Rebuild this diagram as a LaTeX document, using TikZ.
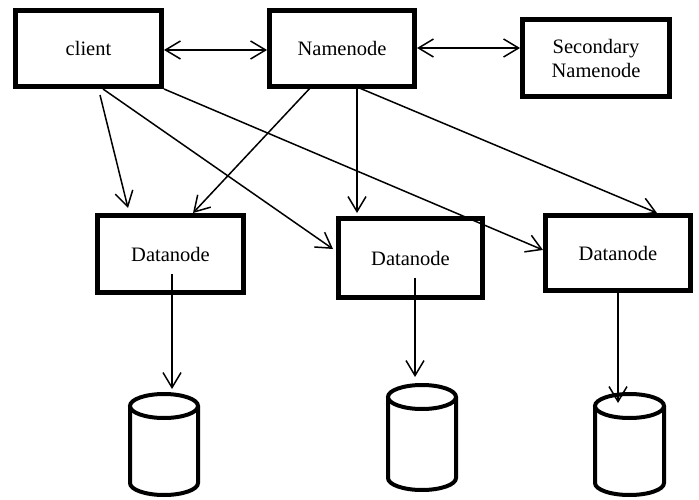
\documentclass[tikz,border=0pt]{standalone}
\usepackage{fontspec}
\setmainfont{Liberation Serif}
\usetikzlibrary{arrows.meta}
\begin{document}
\begin{tikzpicture}[x=1pt,y=1pt,
 box/.style={draw, line width=5pt, align=center, inner sep=0pt, fill=white, font=\fontsize{20.5}{24}\selectfont},
 conn/.style={line width=1.5pt, -{Straight Barb[length=15pt,width=18pt]}},
 biconn/.style={line width=1.5pt, {Straight Barb[length=15pt,width=18pt]}-{Straight Barb[length=15pt,width=18pt]}},
 cylline/.style={line width=4pt, fill=white}]
\useasboundingbox (0,0) rectangle (699,499);
% boxes
\node[box, minimum width=146pt, minimum height=76pt] (client) at (88.5,450.5) {client};
\node[box, minimum width=145pt, minimum height=76pt] (nn) at (342,450.5) {Namenode};
\node[box, minimum width=147pt, minimum height=77pt] (snn) at (596,441) {Secondary\\Namenode};
\node[box, minimum width=146pt, minimum height=77pt] (dn1) at (170.5,245) {Datanode};
\node[box, minimum width=144pt, minimum height=79pt] (dn2) at (410.5,241) {Datanode};
\node[box, minimum width=145pt, minimum height=75pt] (dn3) at (618,246) {Datanode};
% cylinders
\draw[cylline] (130,93) -- (130,16) arc[start angle=180, end angle=360, x radius=34, y radius=12] -- (198,93);
\draw[cylline] (164,93) ellipse [x radius=34, y radius=12];
\draw[cylline] (388,102) -- (388,21) arc[start angle=180, end angle=360, x radius=34, y radius=12] -- (456,102);
\draw[cylline] (422,102) ellipse [x radius=34, y radius=12];
\draw[cylline] (595,93) -- (595,16) arc[start angle=180, end angle=360, x radius=34.5, y radius=12] -- (664,93);
\draw[cylline] (629.5,93) ellipse [x radius=34.5, y radius=12];
\coordinate (cyl1) at (172,110);
\coordinate (cyl2) at (415,122);
\coordinate (cyl3) at (618,96);
% connectors
\draw[biconn] (client.east |- 0,449) -- (nn.west |- 0,449);
\draw[biconn] (nn.east |- 0,451) -- (snn.west |- 0,451);
\draw[conn] ([shift={(11.5pt,-6pt)}]client.south) -- ([shift={(-42.5pt,5pt)}]dn1.north);
\draw[conn] ([xshift=14.5pt]client.south) -- ([shift={(-3pt,9pt)}]dn2.west);
\draw[conn] (client.south east) -- ([yshift=3pt]dn3.west);
\draw[conn] ([shift={(-30pt,3pt)}]nn.south) -- ([xshift=22.5pt]dn1.north);
\draw[conn] ([xshift=15pt]nn.south) -- ([shift={(-53.5pt,3pt)}]dn2.north);
\draw[conn] ([shift={(15pt,2pt)}]nn.south) -- ([shift={(39pt,0pt)}]dn3.north);
\draw[conn] ([shift={(1.5pt,-20pt)}]dn1.center) -- (cyl1);
\draw[conn] ([shift={(4.5pt,-20pt)}]dn2.center) -- (cyl2);
\draw[conn] ([yshift=5pt]dn3.south) -- (cyl3);
\end{tikzpicture}
\end{document}
